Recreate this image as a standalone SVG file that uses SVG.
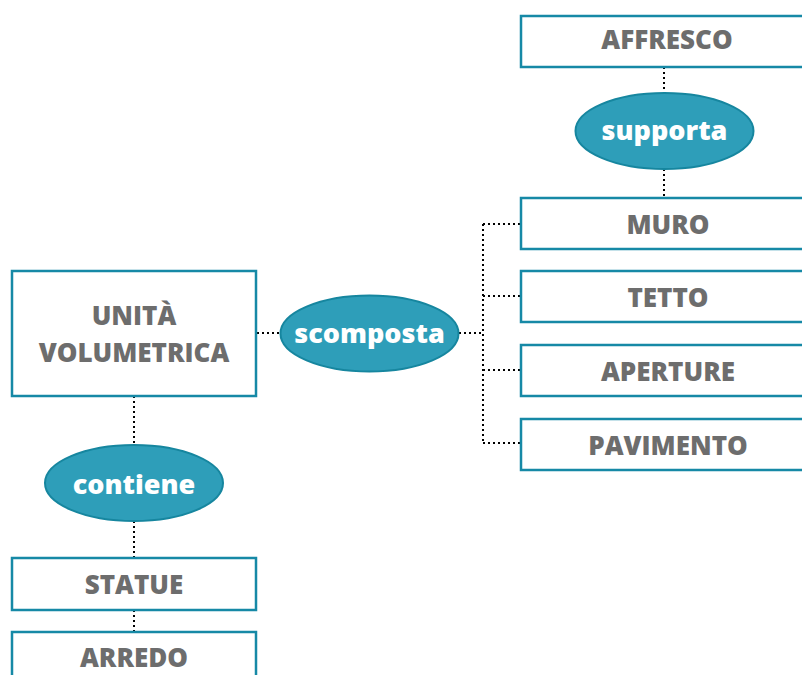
<svg xmlns="http://www.w3.org/2000/svg" width="802" height="675" viewBox="0 0 802 675">
<style>
.box{fill:#fff;stroke:#1689a6;stroke-width:2.5}
.ell{fill:#2e9eb9;stroke:#16869f;stroke-width:2}
.bt{font-family:"Open Sans","Liberation Sans",sans-serif;font-weight:800;font-size:26px;fill:#6d6d6d;text-anchor:middle}
.et{font-family:"Open Sans","Liberation Sans",sans-serif;font-weight:800;font-size:27px;fill:#fff;text-anchor:middle}
.c{fill:none;stroke:#000;stroke-width:2;stroke-dasharray:2 3}
</style>
<rect width="802" height="675" fill="#fff"/>
<g id="connectors">
<path class="c" d="M257 333H280"/>
<path class="c" d="M459 333H483"/>
<path class="c" d="M483 224V443"/>
<path class="c" d="M483 224H521"/>
<path class="c" d="M483 296H521"/>
<path class="c" d="M483 370H521"/>
<path class="c" d="M483 443H521"/>
<path class="c" d="M664 67V93"/>
<path class="c" d="M664 169V197"/>
<path class="c" d="M134 396V445"/>
<path class="c" d="M134 521V558"/>
<path class="c" d="M134 610V632"/>
</g>
<g id="unita"><rect class="box" x="12" y="271" width="244" height="125"/><text class="bt" x="134" y="325">UNITÀ</text><text class="bt" x="134" y="362">VOLUMETRICA</text></g>
<g id="scomposta"><ellipse class="ell" cx="369.5" cy="333.5" rx="89" ry="38"/><text class="et" x="369.5" y="343">scomposta</text></g>
<g id="affresco"><rect class="box" x="521" y="16" width="294" height="51"/><text class="bt" x="667" y="49">AFFRESCO</text></g>
<g id="supporta"><ellipse class="ell" cx="664.5" cy="131" rx="89" ry="38"/><text class="et" x="664.5" y="140">supporta</text></g>
<g id="muro"><rect class="box" x="521" y="198" width="294" height="51"/><text class="bt" x="668" y="234">MURO</text></g>
<g id="tetto"><rect class="box" x="521" y="271" width="294" height="51"/><text class="bt" x="668" y="307">TETTO</text></g>
<g id="aperture"><rect class="box" x="521" y="345" width="294" height="51"/><text class="bt" x="668" y="381">APERTURE</text></g>
<g id="pavimento"><rect class="box" x="521" y="419" width="294" height="51"/><text class="bt" x="668" y="455">PAVIMENTO</text></g>
<g id="contiene"><ellipse class="ell" cx="134" cy="483" rx="89" ry="38"/><text class="et" x="134" y="494">contiene</text></g>
<g id="statue"><rect class="box" x="12" y="558" width="244" height="52"/><text class="bt" x="134" y="594">STATUE</text></g>
<g id="arredo"><rect class="box" x="12" y="632" width="244" height="52"/><text class="bt" x="134" y="667">ARREDO</text></g>
</svg>
